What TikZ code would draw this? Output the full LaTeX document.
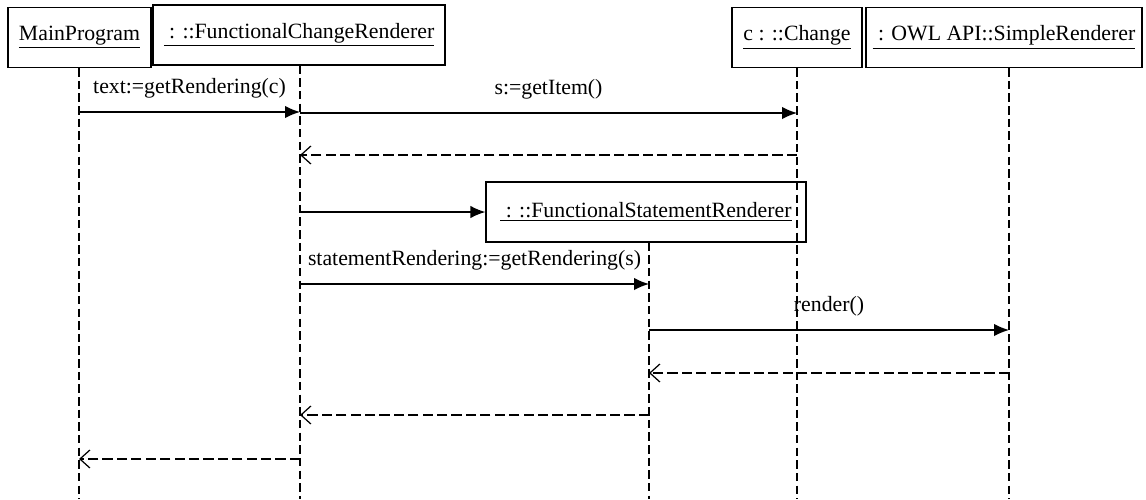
\documentclass[tikz,border=0pt]{standalone}
\usepackage{fontspec}
\setmainfont{Liberation Serif}
\usetikzlibrary{arrows.meta}

\begin{document}
\begin{tikzpicture}[font=\fontsize{12.4}{15}\selectfont]
	\useasboundingbox (0,0) rectangle (22.92,-9.98);
	\tikzstyle{object}=[draw=black, line width=0.7pt, inner sep=0pt, minimum height=1.2cm]
	\tikzstyle{lifeline}=[line width=0.6pt, dash pattern=on 4.8pt off 2.4pt]
	\tikzstyle{call}=[line width=0.8pt, -{Latex[length=0.3cm,width=0.25cm]}]
	\tikzstyle{reply}=[line width=0.7pt, dash pattern=on 5.8pt off 2.4pt, -{Straight Barb[length=0.2cm,width=0.36cm]}]
	\node[object, minimum width=2.86cm] (MP)  at (1.59,-0.75)  {\underline{MainProgram}};
	\node[object, minimum width=5.84cm] (FCR) at (5.98,-0.70)  {\underline{\ : ::FunctionalChangeRenderer}};
	\node[object, minimum width=2.60cm] (CH)  at (15.94,-0.75) {\underline{c : ::Change}};
	\node[object, minimum width=5.52cm] (SR)  at (20.08,-0.75) {\underline{\ : OWL API::SimpleRenderer}};
	\node[object, minimum width=6.40cm] (FSR) at (12.92,-4.24) {\underline{\ : ::FunctionalStatementRenderer}};

	% ends of the lifelines
	\coordinate (MPend)  at (1.58,-9.98);
	\coordinate (FCRend) at (6.00,-9.98);
	\coordinate (CHend)  at (15.94,-9.98);
	\coordinate (SRend)  at (20.18,-9.98);
	\coordinate (FSRend) at (12.98,-9.98);

	\begin{scope}[lifeline]
		\draw (MP.south -| MPend) -- (MPend);
		\draw (FCR.south -| FCRend) -- (FCRend);
		\draw (CH.south -| CHend) -- (CHend);
		\draw (SR.south -| SRend) -- (SRend);
		\draw (FSR.south -| FSRend) -- (FSRend);
	\end{scope}

	% message levels
	\coordinate (m1) at (0,-2.24);
	\coordinate (m2) at (0,-2.26);
	\coordinate (m3) at (0,-3.10);
	\coordinate (m4) at (0,-5.68);
	\coordinate (m5) at (0,-6.60);
	\coordinate (m6) at (0,-7.46);
	\coordinate (m7) at (0,-8.30);
	\coordinate (m8) at (0,-9.18);

	\draw[call]  (MPend |- m1) -- node[above=4pt] (l1) {text:=getRendering(c)} (FCRend |- m1);
	\draw[call]  (FCRend |- m2) -- node[above=4pt] (l2) {s:=getItem()} (CHend |- m2);
	\draw[reply] (CHend |- m3) -- (FCRend |- m3);
	\draw[call]  (FCRend |- FSR.west) -- (FSR.west);
	\draw[call]  (FCRend |- m4) -- node[above=4pt] (l4) {statementRendering:=getRendering(s)} (FSRend |- m4);
	\draw[call]  (FSRend |- m5) -- node[above=4pt] (l5) {render()} (SRend |- m5);
	\draw[reply] (SRend |- m6) -- (FSRend |- m6);
	\draw[reply] (FSRend |- m7) -- (FCRend |- m7);
	\draw[reply] (FCRend |- m8) -- (MPend |- m8);
\end{tikzpicture}
\end{document}
